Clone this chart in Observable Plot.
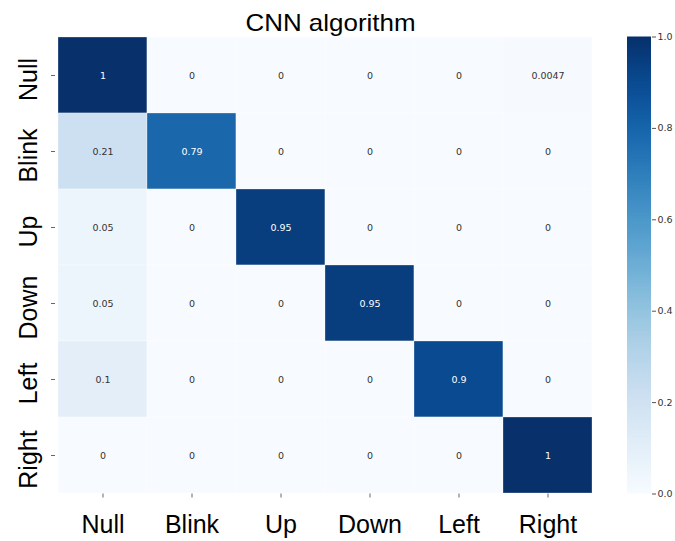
<!DOCTYPE html>
<html>
<head>
<meta charset="utf-8">
<script src="https://cdn.jsdelivr.net/npm/d3@7"></script>
<script src="https://cdn.jsdelivr.net/npm/@observablehq/plot@0.6"></script>
<style>
  body { margin: 0; background: #fff; }
  #chart { position: relative; width: 675px; height: 541px; overflow: hidden; }
  #title {
    position: absolute; left: 0; width: 661px; top: 9px; z-index: 1;
    text-align: center; line-height: 24px; color: #000;
    font: 24px "Liberation Sans", Arial, sans-serif;
    transform: scaleX(1.08); transform-origin: 330.5px 0;
  }
  #heat, #bar { position: absolute; top: 0; }
  #heat { left: 0; }
  #bar { left: 627px; }
</style>
</head>
<body>
<div id="chart">
  <div id="title">CNN algorithm</div>
  <div id="heat"></div>
  <div id="bar"></div>
</div>
<script>
// Class labels (rows = true class, columns = predicted class)
const classes = ["Null", "Blink", "Up", "Down", "Left", "Right"];

// Normalised confusion matrix, one array per true class
const nullRow  = [1,    0,    0,    0,    0,   0.0047];
const blinkRow = [0.21, 0.79, 0,    0,    0,   0];
const upRow    = [0.05, 0,    0.95, 0,    0,   0];
const downRow  = [0.05, 0,    0,    0.95, 0,   0];
const leftRow  = [0.1,  0,    0,    0,    0.9, 0];
const rightRow = [0,    0,    0,    0,    0,   1];

// Colour bar ticks
const barTicks = [0, 0.2, 0.4, 0.6, 0.8, 1.0];

const matrix = [nullRow, blinkRow, upRow, downRow, leftRow, rightRow];
const cells = matrix.flatMap((row, i) =>
  row.map((value, j) => ({actual: classes[i], predicted: classes[j], value}))
);

const colorScale = {type: "linear", domain: [0, 1], scheme: "blues"};
const sans = "'Liberation Sans', Arial, Helvetica, sans-serif";
const small = "'DejaVu Sans', sans-serif";

const heat = Plot.plot({
  width: 675,
  height: 541,
  marginLeft: 55,
  marginRight: 81,
  marginTop: 36.5,
  marginBottom: 47.5,
  style: {background: "transparent", fontFamily: sans},
  x: {domain: classes, padding: 0, label: null},
  y: {domain: classes, padding: 0, label: null},
  color: colorScale,
  marks: [
    Plot.cell(cells, {
      x: "predicted", y: "actual", fill: "value",
      stroke: "white", strokeWidth: 0.6, strokeOpacity: 0.5
    }),
    Plot.text(cells.filter(d => d.value > 0.5), {
      x: "predicted", y: "actual", text: d => String(d.value),
      fill: "white", fontSize: 9.5, fontFamily: small
    }),
    Plot.text(cells.filter(d => d.value <= 0.5), {
      x: "predicted", y: "actual", text: d => String(d.value),
      fill: "#333", fontSize: 9.5, fontFamily: small
    }),
    Plot.axisX({
      tickSize: 4, tickPadding: 16.75, fontSize: 25,
      stroke: "#666", fill: "#000", label: null
    }),
    Plot.axisY({tickSize: 4, tickFormat: () => "", stroke: "#666", label: null}),
    Plot.text(classes, {
      y: d => d, text: d => d, frameAnchor: "left", rotate: -90,
      dx: -27, dy: 4, lineAnchor: "middle", textAnchor: "middle",
      fontSize: 25, fill: "#000"
    })
  ]
});
document.getElementById("heat").appendChild(heat);

// Vertical colour bar sharing the same Blues scale
const step = 0.004;
const ramp = d3.range(0, 1, step);
const bar = Plot.plot({
  width: 48,
  height: 541,
  marginLeft: 0,
  marginRight: 24,
  marginTop: 36.5,
  marginBottom: 47.5,
  style: {background: "transparent", fontFamily: small},
  x: {domain: [0, 1], axis: null},
  y: {domain: [0, 1], label: null},
  color: colorScale,
  marks: [
    Plot.rect(ramp, {
      x1: () => 0, x2: () => 1,
      y1: d => d, y2: d => Math.min(1, d + step * 1.6),
      fill: d => d + step / 2
    }),
    Plot.axisY({
      anchor: "right", ticks: barTicks, tickFormat: d3.format(".1f"),
      tickSize: 4, tickPadding: 2, fontSize: 9.5,
      stroke: "#555", fill: "#333", label: null
    })
  ]
});
document.getElementById("bar").appendChild(bar);
</script>
</body>
</html>
